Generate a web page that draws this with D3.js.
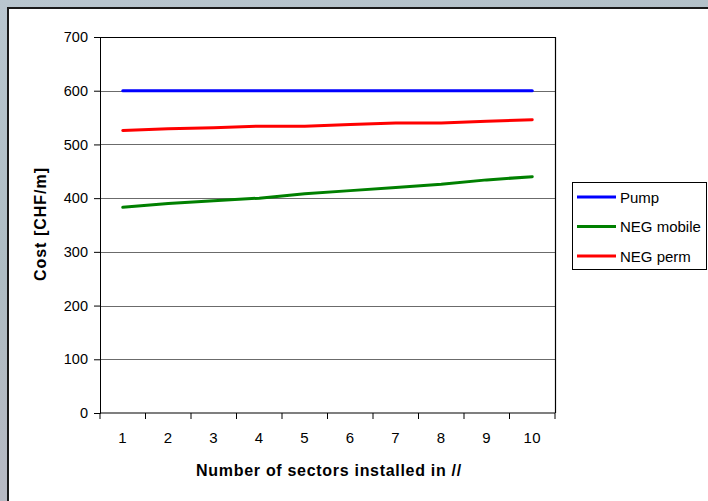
<!DOCTYPE html>
<html>
<head>
<meta charset="utf-8">
<script src="https://cdn.jsdelivr.net/npm/d3@7"></script>
<style>
  html, body { margin: 0; padding: 0; }
  body { width: 708px; height: 501px; overflow: hidden; }
  svg { display: block; }
</style>
</head>
<body>
<svg id="chart" width="708" height="501"></svg>
<script>
// Cost per metre against number of sectors installed in parallel
const sectors = [1, 2, 3, 4, 5, 6, 7, 8, 9, 10];
const pumpCost = [600, 600, 600, 600, 600, 600, 600, 600, 600, 600];
const negMobileCost = [383, 390, 395, 400, 408, 414, 420, 426, 434, 440];
const negPermCost = [526, 529, 531, 534, 534, 537, 540, 540, 543, 546];
const yTicks = [0, 100, 200, 300, 400, 500, 600, 700];
const seriesNames = ["Pump", "NEG mobile", "NEG perm"];
const seriesColors = ["#0000ff", "#008000", "#ff0000"];

const svg = d3.select("#chart");
const W = 708, H = 501;

// backdrop
const defs = svg.append("defs");
const bg = defs.append("linearGradient").attr("id", "bg")
  .attr("x1", 0).attr("y1", 0).attr("x2", 0.3).attr("y2", 1);
bg.append("stop").attr("offset", "0%").attr("stop-color", "#b9c6cf");
bg.append("stop").attr("offset", "50%").attr("stop-color", "#aebcc3");
bg.append("stop").attr("offset", "100%").attr("stop-color", "#b8b8c2");
svg.append("rect").attr("width", W).attr("height", H).attr("fill", "url(#bg)");

// white chart sheet
svg.append("rect")
  .attr("x", 8).attr("y", 8).attr("width", W + 10).attr("height", H + 10)
  .attr("fill", "#ffffff").attr("stroke", "#1a1a1a").attr("stroke-width", 2);

const plot = { left: 100, top: 37, right: 555, bottom: 413 };

const x = d3.scaleBand().domain(sectors).range([plot.left, plot.right]);
const y = d3.scaleLinear().domain([0, 700]).range([plot.bottom, plot.top]);

const font = "'Liberation Sans', Arial, sans-serif";

// horizontal grid lines
svg.append("g")
  .selectAll("line").data(yTicks.filter(t => t > 0 && t < 700)).join("line")
  .attr("x1", plot.left).attr("x2", plot.right)
  .attr("y1", d => Math.round(y(d)) + 0.5).attr("y2", d => Math.round(y(d)) + 0.5)
  .attr("stroke", "#6b6b6b").attr("stroke-width", 1);

// top and right border of the plot area
svg.append("path")
  .attr("d", `M${plot.left},${plot.top + 0.5}H${plot.right + 0.5}V${plot.bottom}`)
  .attr("fill", "none").attr("stroke", "#000").attr("stroke-width", 1.2);

// y axis
const yAxis = svg.append("g")
  .attr("transform", `translate(${plot.left},0)`)
  .call(d3.axisLeft(y).tickValues(yTicks).tickSize(6).tickPadding(6));
yAxis.selectAll("text").attr("font-family", font).attr("font-size", 14.5).attr("fill", "#000");
yAxis.selectAll("line, path").attr("stroke", "#000");

// x axis (ticks on band boundaries)
const xAxis = svg.append("g").attr("transform", `translate(0,${plot.bottom})`);
xAxis.append("line")
  .attr("x1", plot.left).attr("x2", plot.right)
  .attr("stroke", "#000").attr("stroke-width", 1.2);
const bounds = sectors.map(s => x(s)).concat([plot.right]);
xAxis.selectAll("line.tick").data(bounds).join("line").attr("class", "tick")
  .attr("x1", d => d).attr("x2", d => d).attr("y1", 0).attr("y2", 6)
  .attr("stroke", "#000");
xAxis.selectAll("text").data(sectors).join("text")
  .attr("x", d => x(d) + x.bandwidth() / 2).attr("y", 30)
  .attr("text-anchor", "middle").attr("font-family", font).attr("font-size", 15)
  .attr("letter-spacing", 0.5)
  .text(d => d);

// axis titles
svg.append("text")
  .attr("transform", "translate(46,224) rotate(-90)")
  .attr("text-anchor", "middle").attr("font-family", font)
  .attr("font-size", 16).attr("font-weight", "bold").attr("letter-spacing", 1)
  .text("Cost [CHF/m]");
svg.append("text")
  .attr("x", 329).attr("y", 476)
  .attr("text-anchor", "middle").attr("font-family", font)
  .attr("font-size", 16).attr("font-weight", "bold").attr("letter-spacing", 0.7)
  .text("Number of sectors installed in //");

// series lines
const seriesValues = [pumpCost, negMobileCost, negPermCost];
const line = d3.line()
  .x((d, i) => x(sectors[i]) + x.bandwidth() / 2)
  .y(d => y(d));
svg.append("g").selectAll("path").data(seriesValues).join("path")
  .attr("d", d => line(d))
  .attr("fill", "none")
  .attr("stroke", (d, i) => seriesColors[i])
  .attr("stroke-width", 3)
  .attr("stroke-linecap", "round");

// legend
const legend = svg.append("g").attr("transform", "translate(572,182)");
legend.append("rect")
  .attr("x", 0.5).attr("y", 0.5).attr("width", 134).attr("height", 87)
  .attr("fill", "#fff").attr("stroke", "#000");
const item = legend.selectAll("g.item").data(seriesNames).join("g")
  .attr("class", "item")
  .attr("transform", (d, i) => `translate(0,${15 + i * 29.5})`);
item.append("line")
  .attr("x1", 5).attr("x2", 44).attr("y1", 0).attr("y2", 0)
  .attr("stroke", (d, i) => seriesColors[i]).attr("stroke-width", 3);
item.append("text")
  .attr("x", 48).attr("y", 5.5)
  .attr("font-family", font).attr("font-size", 15)
  .text(d => d);
</script>
</body>
</html>
